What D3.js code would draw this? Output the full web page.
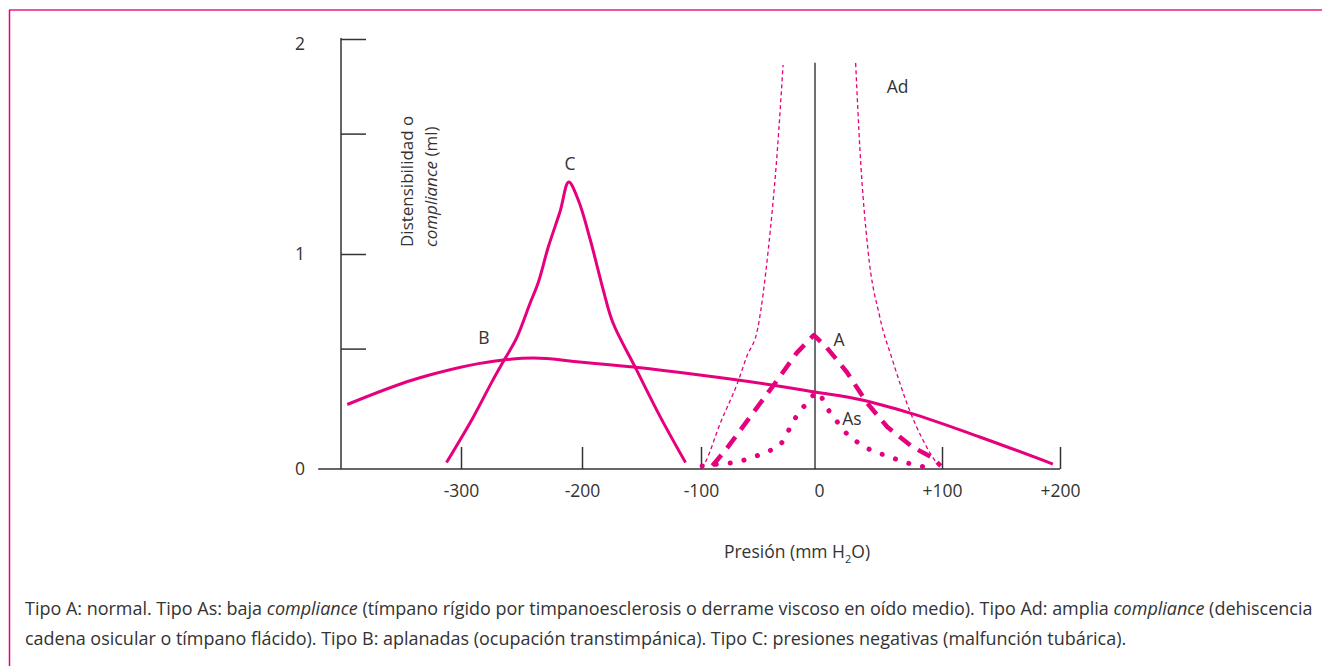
<!DOCTYPE html>
<html>
<head>
<meta charset="utf-8">
<script src="https://cdn.jsdelivr.net/npm/d3@7"></script>
<style>
  body { margin: 0; background: #fff; }
  text { font-family: "Open Sans", "Noto Sans", sans-serif; font-weight: 400; fill: #333; }
</style>
</head>
<body>
<div id="chart"></div>
<script>
// pressure ticks (mm H2O) and compliance labels (ml)
var xTicks = [-300, -200, -100, 0, 100, 200];
var yLabels = [0, 1, 2];
var yTicks = [0.56, 1, 1.56, 2];

// curves: [pressure, compliance]
var curveC = [[-312, 0.03], [-290, 0.24], [-274, 0.41], [-264, 0.51], [-254, 0.61], [-243, 0.77],
  [-236, 0.87], [-228, 1.03], [-218, 1.2], [-211, 1.335], [-203, 1.25], [-193, 1.065],
  [-182, 0.83], [-174, 0.68], [-155, 0.47], [-134, 0.24], [-113, 0.03]];
var curveB = [[-394, 0.30], [-340, 0.414], [-326, 0.437], [-265, 0.507], [-240, 0.516], [-202, 0.498],
  [-157, 0.474], [-101, 0.437], [-38, 0.391], [0, 0.358], [37, 0.321], [75, 0.26], [132, 0.149], [194, 0.023]];
var curveA = [[-90, 0.015], [-77, 0.098], [-57, 0.242], [-33, 0.414], [-16, 0.54], [-1, 0.623],
  [9, 0.567], [25, 0.451], [41, 0.307], [57, 0.195], [77, 0.102], [93, 0.051], [99, 0.014]];
var curveAs = [[-99, 0.014], [-85, 0.023], [-68, 0.033], [-54, 0.056], [-40, 0.084], [-28, 0.13],
  [-22, 0.191], [-15, 0.256], [-6, 0.312], [2, 0.358], [9, 0.288], [17, 0.223], [26, 0.158],
  [37, 0.112], [47, 0.079], [58, 0.06], [69, 0.033], [80, 0.019], [91, 0.0]];
var curveAdLeft = [[-99, 0.005], [-96.5, 0.028], [-83, 0.214], [-68, 0.40], [-60, 0.521], [-50, 0.66],
  [-41, 1.019], [-33, 1.484], [-28, 1.879]];
var curveAdRight = [[32, 1.888], [35.4, 1.484], [41.7, 1.019], [51, 0.707], [61, 0.507], [75, 0.265],
  [85, 0.135], [96, 0.028], [100, 0.005]];

var curveLabels = [
  {t: "C", p: -210, v: 1.42},
  {t: "B", p: -281, v: 0.61},
  {t: "A", p: 19, v: 0.60},
  {t: "As", p: 29, v: 0.235},
  {t: "Ad", p: 65, v: 1.776}
];

var captionLines = [
  [["Tipo A: normal. Tipo As: baja ", false], ["compliance", true],
   [" (tímpano rígido por timpanoesclerosis o derrame viscoso en oído medio). Tipo Ad: amplia ", false],
   ["compliance", true], [" (dehiscencia", false]],
  [["cadena osicular o tímpano flácido). Tipo B: aplanadas (ocupación transtimpánica). Tipo C: presiones negativas (malfunción tubárica).", false]]
];

var pink = "#e6007e";
var W = 1322, H = 666;

var svg = d3.select("#chart").append("svg")
  .attr("width", W).attr("height", H);

// frame
svg.append("line").attr("x1", 9).attr("x2", W).attr("y1", 10).attr("y2", 10)
  .style("stroke", "#ef55a3").style("stroke-width", 2);
svg.append("line").attr("x1", 9.5).attr("x2", 9.5).attr("y1", 10).attr("y2", H)
  .style("stroke", pink).style("stroke-width", 1.5);

// scales (x is hand-drawn, so piecewise)
var x = d3.scaleLinear()
  .domain(xTicks)
  .range([461, 582, 701, 815, 942, 1060]);
var y = d3.scaleLinear()
  .domain([0, 2])
  .range([469, 39]);

// x axis base line
svg.append("line")
  .attr("x1", x(-418)).attr("x2", x(200))
  .attr("y1", y(0)).attr("y2", y(0))
  .style("stroke", "#333").style("stroke-width", 1.5);

// x ticks (upwards)
var xTickAxis = svg.append("g")
  .attr("transform", "translate(0," + y(0) + ")")
  .call(d3.axisTop(x).tickValues(xTicks.filter(function(d){ return d != 0; }))
    .tickSize(22).tickFormat(""));
xTickAxis.select(".domain").remove();
xTickAxis.selectAll("line").style("stroke", "#333").style("stroke-width", 1.5);

// x tick labels
var xLab = svg.append("g")
  .attr("transform", "translate(0," + y(0) + ")")
  .call(d3.axisBottom(x).tickValues(xTicks).tickSize(0).tickPadding(16)
    .tickFormat(function(d){ return d > 0 ? "+" + d : d; }));
xLab.select(".domain").remove();
xLab.selectAll("text").style("font-size", "17.5px").style("fill", "#333")
  .style("font-family", '"Open Sans", sans-serif');
xLab.selectAll(".tick").filter(function(d){ return d == 0; }).select("text").attr("dx", 4);

// y axis
var yAxis = svg.append("g")
  .attr("transform", "translate(341,0)")
  .call(d3.axisRight(y).tickValues(yTicks).tickSize(25).tickSizeOuter(0).tickFormat(""));
yAxis.select(".domain").attr("d", "M0," + y(0) + "V" + (y(2) - 1));
yAxis.selectAll("path, line").style("stroke", "#333").style("stroke-width", 1.5);

svg.selectAll(".ylab").data(yLabels).join("text")
  .attr("class", "ylab")
  .attr("x", 300).attr("y", function(d){ return y(d) + (d == 2 ? 5 : 0); })
  .attr("dy", "0.36em")
  .attr("text-anchor", "middle")
  .style("font-size", "17.5px")
  .text(function(d){ return d; });

// y axis title
var yt = svg.append("text")
  .attr("transform", "translate(413,247) rotate(-90)")
  .style("font-size", "17px");
yt.append("tspan").attr("x", 0).attr("y", 0).text("Distensibilidad o");
yt.append("tspan").attr("x", 0).attr("y", 24).style("font-style", "italic").text("compliance");
yt.append("tspan").text(" (ml)");

// x axis title
var xt = svg.append("text")
  .attr("x", 797).attr("y", 558)
  .attr("text-anchor", "middle")
  .style("font-size", "17.5px");
xt.append("tspan").text("Presión (mm H");
xt.append("tspan").attr("dy", 5).style("font-size", "11px").text("2");
xt.append("tspan").attr("dy", -5).text("O)");

// zero pressure line
svg.append("line")
  .attr("x1", x(0)).attr("x2", x(0))
  .attr("y1", y(1.89)).attr("y2", y(0))
  .style("stroke", "#222").style("stroke-width", 1.3);

function lineGen(curve) {
  return d3.line()
    .x(function(d){ return x(d[0]); })
    .y(function(d){ return y(d[1]); })
    .curve(curve);
}

var curves = [
  {data: curveB, curve: d3.curveMonotoneX, w: 3, dash: null, cap: "butt"},
  {data: curveC, curve: d3.curveCatmullRom.alpha(0.5), w: 3, dash: null, cap: "butt"},
  {data: curveAdLeft, curve: d3.curveMonotoneX, w: 1.3, dash: "4 3", cap: "butt"},
  {data: curveAdRight, curve: d3.curveMonotoneX, w: 1.3, dash: "4 3", cap: "butt"},
  {data: curveA, curve: d3.curveLinear, w: 4.5, dash: "14 9", cap: "butt"},
  {data: curveAs, curve: d3.curveMonotoneX, w: 5, dash: "0.1 14", cap: "round"}
];

svg.selectAll(".curve").data(curves).join("path")
  .attr("class", "curve")
  .attr("d", function(c){ return lineGen(c.curve)(c.data); })
  .style("fill", "none")
  .style("stroke", pink)
  .style("stroke-width", function(c){ return c.w; })
  .style("stroke-dasharray", function(c){ return c.dash; })
  .style("stroke-linecap", function(c){ return c.cap; })
  .style("stroke-linejoin", "round");

svg.selectAll(".clab").data(curveLabels).join("text")
  .attr("class", "clab")
  .attr("x", function(d){ return x(d.p); })
  .attr("y", function(d){ return y(d.v); })
  .attr("dy", "0.36em")
  .attr("text-anchor", "middle")
  .style("font-size", "17.5px")
  .text(function(d){ return d.t; });

// caption
var capG = svg.append("g");
var capTexts = [];
captionLines.forEach(function(line, i){
  var t = capG.append("text")
    .attr("x", 25).attr("y", 615 + i * 30)
    .style("font-size", "16px");
  line.forEach(function(part){
    t.append("tspan").style("font-style", part[1] ? "italic" : "normal").text(part[0]);
  });
  capTexts.push(t);
});
// fit first line to the width in the picture
var len = capTexts[0].node().getComputedTextLength();
var fs = 16 * 1288 / len;
capTexts.forEach(function(t){ t.style("font-size", fs + "px"); });
</script>
</body>
</html>
